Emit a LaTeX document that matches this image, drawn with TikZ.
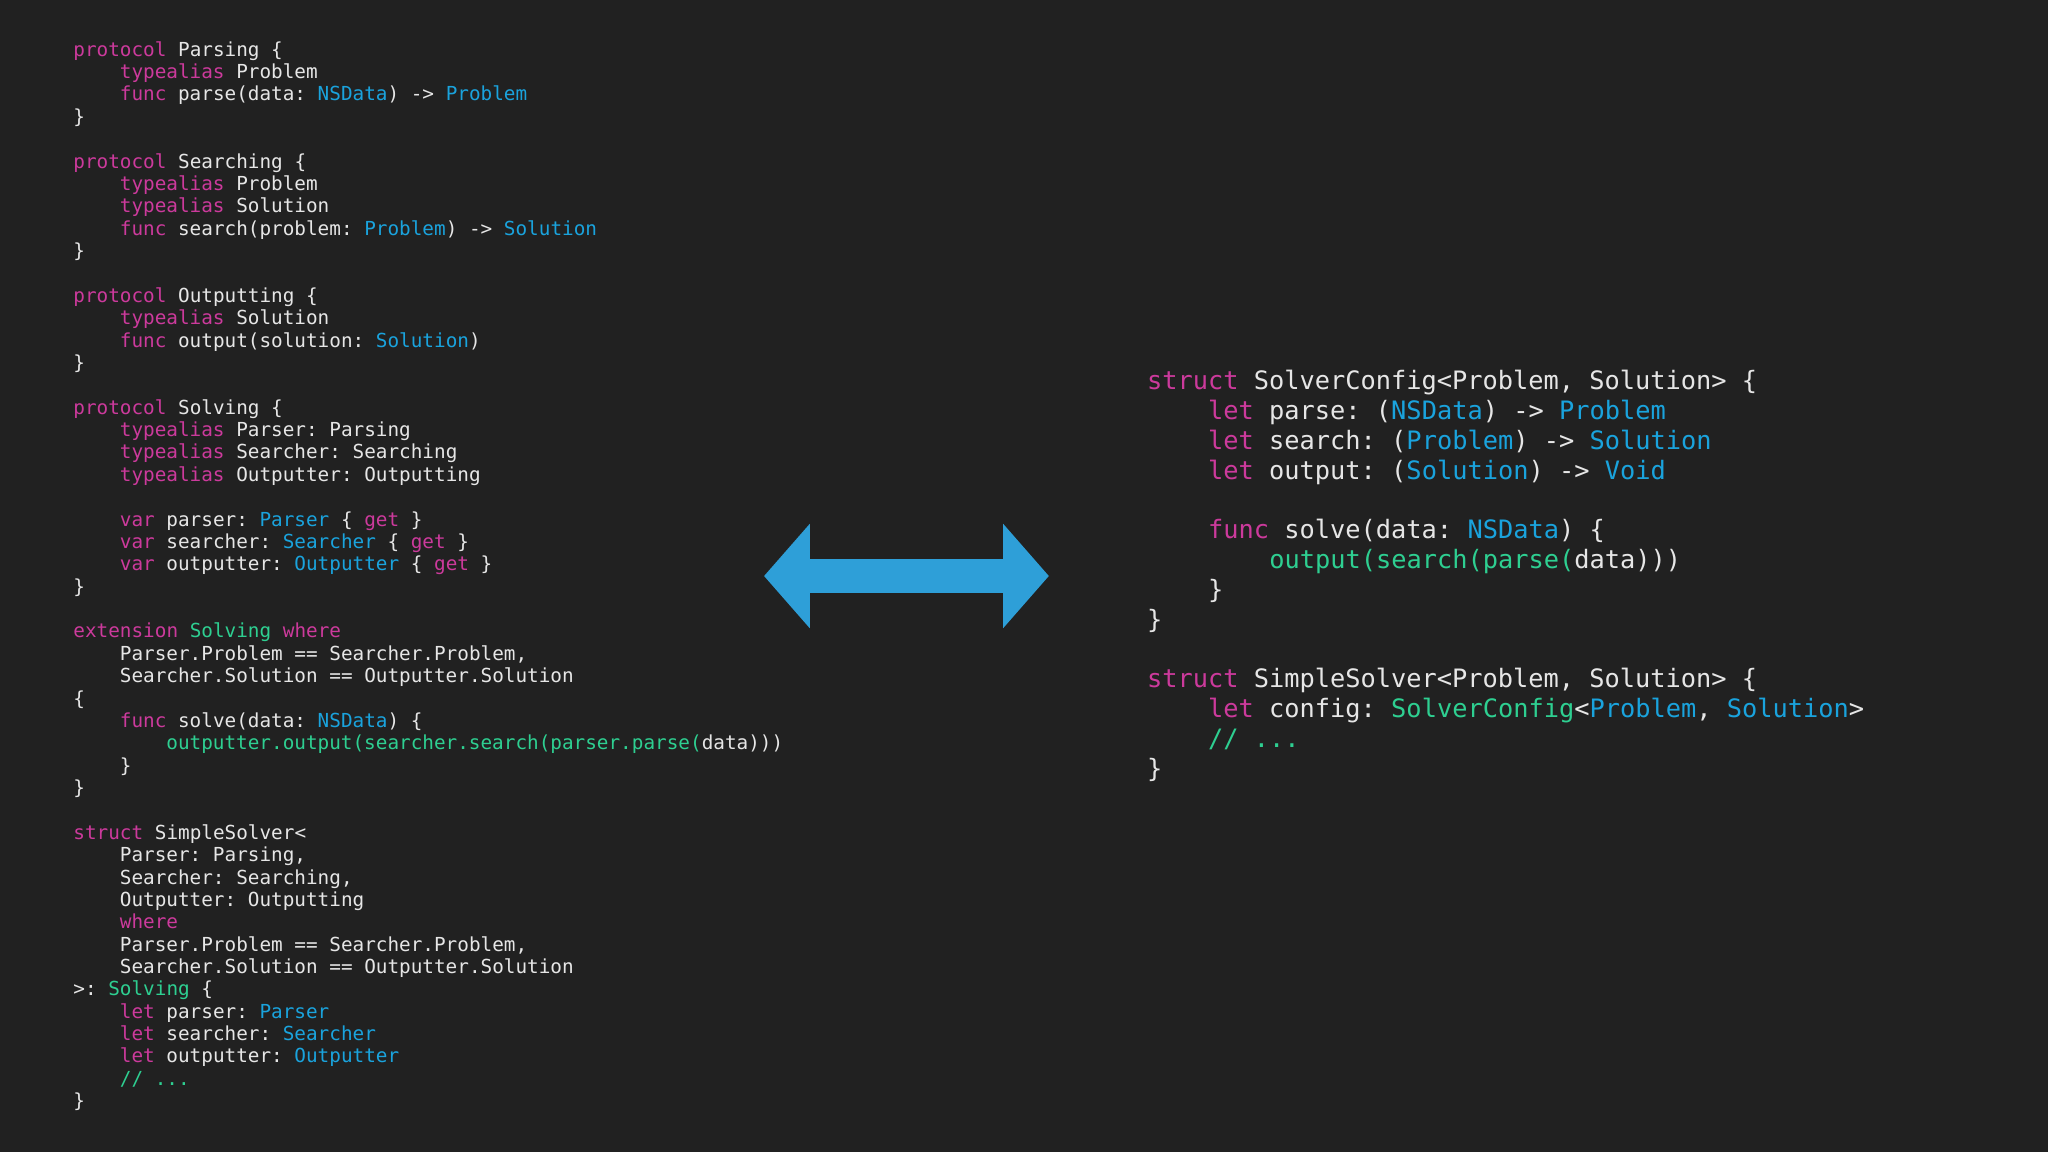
\documentclass[tikz,border=0pt]{standalone}
\usepackage{fontspec}
\setmonofont{DejaVu Sans Mono}
\definecolor{bg}{HTML}{212121}
\definecolor{fg}{HTML}{E6E6E6}
\definecolor{kw}{HTML}{CC3A9C}
\definecolor{ty}{HTML}{1AA3DD}
\definecolor{gr}{HTML}{2ECF91}
\definecolor{arr}{HTML}{2E9FD8}
\newcommand\K[1]{\textcolor{kw}{#1}}
\newcommand\T[1]{\textcolor{ty}{#1}}
\newcommand\G[1]{\textcolor{gr}{#1}}
\newcommand\LL[3]{\node[lcode] (l#1) at ({56+8.9*#2},{38+17.13*(#1-1)+5}) {#3};}
\newcommand\RR[3]{\node[rcode] (r#1) at ({878+11.7*#2},{292+22.8*(#1-1)+6.5}) {#3};}
\begin{document}
\begin{tikzpicture}[x=1pt,y=-1pt,
  lcode/.style={anchor=base west,inner sep=0pt,text=fg,font=\ttfamily\fontsize{14.8}{17}\selectfont},
  rcode/.style={anchor=base west,inner sep=0pt,text=fg,font=\ttfamily\fontsize{19.4}{23}\selectfont}]
\fill[bg] (0,0) rectangle (1568,882);
\useasboundingbox (0,0) rectangle (1568,882);
\LL{1}{0}{\K{protocol} Parsing \{}
\LL{2}{4}{\K{typealias} Problem}
\LL{3}{4}{\K{func} parse(data: \T{NSData}) -> \T{Problem}}
\LL{4}{0}{\}}
\LL{6}{0}{\K{protocol} Searching \{}
\LL{7}{4}{\K{typealias} Problem}
\LL{8}{4}{\K{typealias} Solution}
\LL{9}{4}{\K{func} search(problem: \T{Problem}) -> \T{Solution}}
\LL{10}{0}{\}}
\LL{12}{0}{\K{protocol} Outputting \{}
\LL{13}{4}{\K{typealias} Solution}
\LL{14}{4}{\K{func} output(solution: \T{Solution})}
\LL{15}{0}{\}}
\LL{17}{0}{\K{protocol} Solving \{}
\LL{18}{4}{\K{typealias} Parser: Parsing}
\LL{19}{4}{\K{typealias} Searcher: Searching}
\LL{20}{4}{\K{typealias} Outputter: Outputting}
\LL{22}{4}{\K{var} parser: \T{Parser} \{ \K{get} \}}
\LL{23}{4}{\K{var} searcher: \T{Searcher} \{ \K{get} \}}
\LL{24}{4}{\K{var} outputter: \T{Outputter} \{ \K{get} \}}
\LL{25}{0}{\}}
\LL{27}{0}{\K{extension} \G{Solving} \K{where}}
\LL{28}{4}{Parser.Problem == Searcher.Problem,}
\LL{29}{4}{Searcher.Solution == Outputter.Solution}
\LL{30}{0}{\{}
\LL{31}{4}{\K{func} solve(data: \T{NSData}) \{}
\LL{32}{8}{\G{outputter.output(searcher.search(parser.parse(}data)))}
\LL{33}{4}{\}}
\LL{34}{0}{\}}
\LL{36}{0}{\K{struct} SimpleSolver<}
\LL{37}{4}{Parser: Parsing,}
\LL{38}{4}{Searcher: Searching,}
\LL{39}{4}{Outputter: Outputting}
\LL{40}{4}{\K{where}}
\LL{41}{4}{Parser.Problem == Searcher.Problem,}
\LL{42}{4}{Searcher.Solution == Outputter.Solution}
\LL{43}{0}{>: \G{Solving} \{}
\LL{44}{4}{\K{let} parser: \T{Parser}}
\LL{45}{4}{\K{let} searcher: \T{Searcher}}
\LL{46}{4}{\K{let} outputter: \T{Outputter}}
\LL{47}{4}{\G{// ...}}
\LL{48}{0}{\}}
\RR{1}{0}{\K{struct} SolverConfig<Problem, Solution> \{}
\RR{2}{4}{\K{let} parse: (\T{NSData}) -> \T{Problem}}
\RR{3}{4}{\K{let} search: (\T{Problem}) -> \T{Solution}}
\RR{4}{4}{\K{let} output: (\T{Solution}) -> \T{Void}}
\RR{6}{4}{\K{func} solve(data: \T{NSData}) \{}
\RR{7}{8}{\G{output(search(parse(}data)))}
\RR{8}{4}{\}}
\RR{9}{0}{\}}
\RR{11}{0}{\K{struct} SimpleSolver<Problem, Solution> \{}
\RR{12}{4}{\K{let} config: \G{SolverConfig}<\T{Problem}, \T{Solution}>}
\RR{13}{4}{\G{// ...}}
\RR{14}{0}{\}}
\fill[arr] (585,441) -- (620,401) -- (620,428) -- (768,428) -- (768,401) -- (803,441)
  -- (768,481) -- (768,454) -- (620,454) -- (620,481) -- cycle;
\end{tikzpicture}
\end{document}
